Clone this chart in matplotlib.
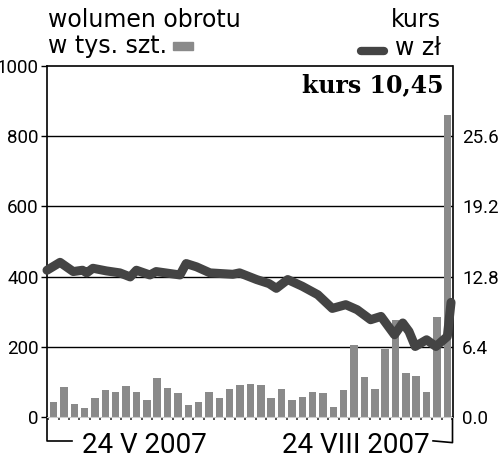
"""Wolumen obrotu (słupki) i kurs akcji (linia), 24 V - 24 VIII 2007."""
import numpy as np
import matplotlib

matplotlib.use("Agg")
import matplotlib.pyplot as plt
from matplotlib.patches import Rectangle
from matplotlib.lines import Line2D

# --- data -----------------------------------------------------------------
# daily volume, thousands of shares (one bar per session)
volume = [42, 86, 38, 26, 54, 77, 71, 88, 71, 49,
          112, 83, 69, 35, 43, 72, 54, 81, 90, 94,
          90, 54, 79, 49, 56, 71, 69, 28, 77, 205,
          114, 79, 193, 275, 125, 118, 72, 284, 860]

# share price (zł), positions in session units (0 = first bar)
kurs_pos = [-0.63, 0.63, 1.9, 2.8, 3.2, 3.8, 5.1, 6.4, 7.4, 8.0,
            9.3, 9.9, 12.2, 12.8, 13.8, 15.1, 17.3, 17.95, 19.6, 20.8,
            21.5, 22.6, 24.0, 25.5, 26.9, 28.2, 29.3, 30.6, 31.6, 32.9,
            33.7, 34.3, 34.9, 36.0, 36.9, 38.0, 38.36]
kurs = [13.38, 14.10, 13.26, 13.38, 13.14, 13.56, 13.32, 13.14, 12.77, 13.38,
        12.95, 13.26, 12.95, 13.99, 13.69, 13.14, 13.01, 13.14, 12.53, 12.16,
        11.73, 12.53, 11.92, 11.15, 9.90, 10.24, 9.78, 8.87, 9.17, 7.50,
        8.57, 7.80, 6.43, 7.04, 6.43, 7.34, 10.45]

left_ticks = [0, 200, 400, 600, 800, 1000]
right_ticks = [0.0, 6.4, 12.8, 19.2, 25.6]
first_label = "24 V 2007"
last_label = "24 VIII 2007"
badge = "kurs 10,45"

BAR_C = "#8a8a8a"
LINE_C = "#444444"
NUM_FONT = "Roboto"

fig = plt.figure(figsize=(5.0, 4.59), dpi=100)
ax = fig.add_axes([0.094, 0.0915, 0.811, 0.7647])
x = np.arange(len(volume))
ax.bar(x, volume, width=0.72, color=BAR_C, zorder=2)
ax.set_xlim(-0.63, len(volume) - 1 + 0.36)
ax.set_ylim(0, 1000)
ax.set_yticks(left_ticks)
ax.set_yticklabels([str(t) for t in left_ticks], family=NUM_FONT)
for t in left_ticks[1:-1]:
    ax.axhline(t, color="black", lw=1.0, zorder=1)
ax.set_xticks(np.arange(len(volume) + 1) - 0.5)
ax.set_xticklabels([])
ax.tick_params(axis="x", length=2, width=1.2, color="#333333", direction="out")
ax.tick_params(axis="y", length=4, width=1.0, pad=2, labelsize=13.5)
ax.spines["bottom"].set_color("#cccccc")
ax.spines["bottom"].set_linewidth(0.8)
for s in ("left", "top", "right"):
    ax.spines[s].set_linewidth(1.2)

ax2 = ax.twinx()
ax2.set_ylim(0, 32)
ax2.set_yticks(right_ticks)
ax2.set_yticklabels([f"{t:.1f}" for t in right_ticks], family=NUM_FONT)
ax2.tick_params(axis="y", length=0, pad=7, labelsize=13.5)
for s in ax2.spines.values():
    s.set_visible(False)
ax2.plot(kurs_pos, kurs, color=LINE_C, lw=6.5, solid_capstyle="round",
         solid_joinstyle="round", clip_on=False, zorder=5)

# spines extended below the plot, with the date labels
drop = -0.068
ax.add_line(Line2D([0, 0, 0.062], [0, drop, drop], transform=ax.transAxes,
                   color="black", lw=1.2, clip_on=False))
ax.add_line(Line2D([1, 1, 0.952], [0, drop - 0.005, drop], transform=ax.transAxes,
                   color="black", lw=1.2, clip_on=False))
ax.text(0.087, drop - 0.012, first_label, transform=ax.transAxes, ha="left",
        va="center", fontsize=20, family="Roboto")
ax.text(0.944, drop - 0.012, last_label, transform=ax.transAxes, ha="right",
        va="center", fontsize=20, family="Roboto")

# header texts and legend keys
fig.text(48 / 500, 1 - 27 / 459, "wolumen obrotu", ha="left", va="baseline",
         fontsize=17, family="DejaVu Sans")
fig.text(48 / 500, 1 - 53 / 459, "w tys. szt.", ha="left", va="baseline",
         fontsize=17, family="DejaVu Sans")
fig.patches.append(Rectangle((173 / 500, 1 - 50 / 459), 20 / 500, 8 / 459,
                             transform=fig.transFigure, color=BAR_C))
fig.text(441 / 500, 1 - 27 / 459, "kurs", ha="right", va="baseline",
         fontsize=17, family="DejaVu Sans")
fig.text(441 / 500, 1 - 55 / 459, "w zł", ha="right", va="baseline",
         fontsize=17, family="DejaVu Sans")
fig.lines.append(Line2D([361 / 500, 384 / 500], [1 - 51 / 459, 1 - 51 / 459],
                        transform=fig.transFigure, color=LINE_C, lw=6,
                        solid_capstyle="round"))
fig.text(443 / 500, 1 - 92 / 459, badge, ha="right", va="baseline",
         fontsize=17, family="DejaVu Serif", weight="bold")

fig.savefig("out.png", dpi=100)
